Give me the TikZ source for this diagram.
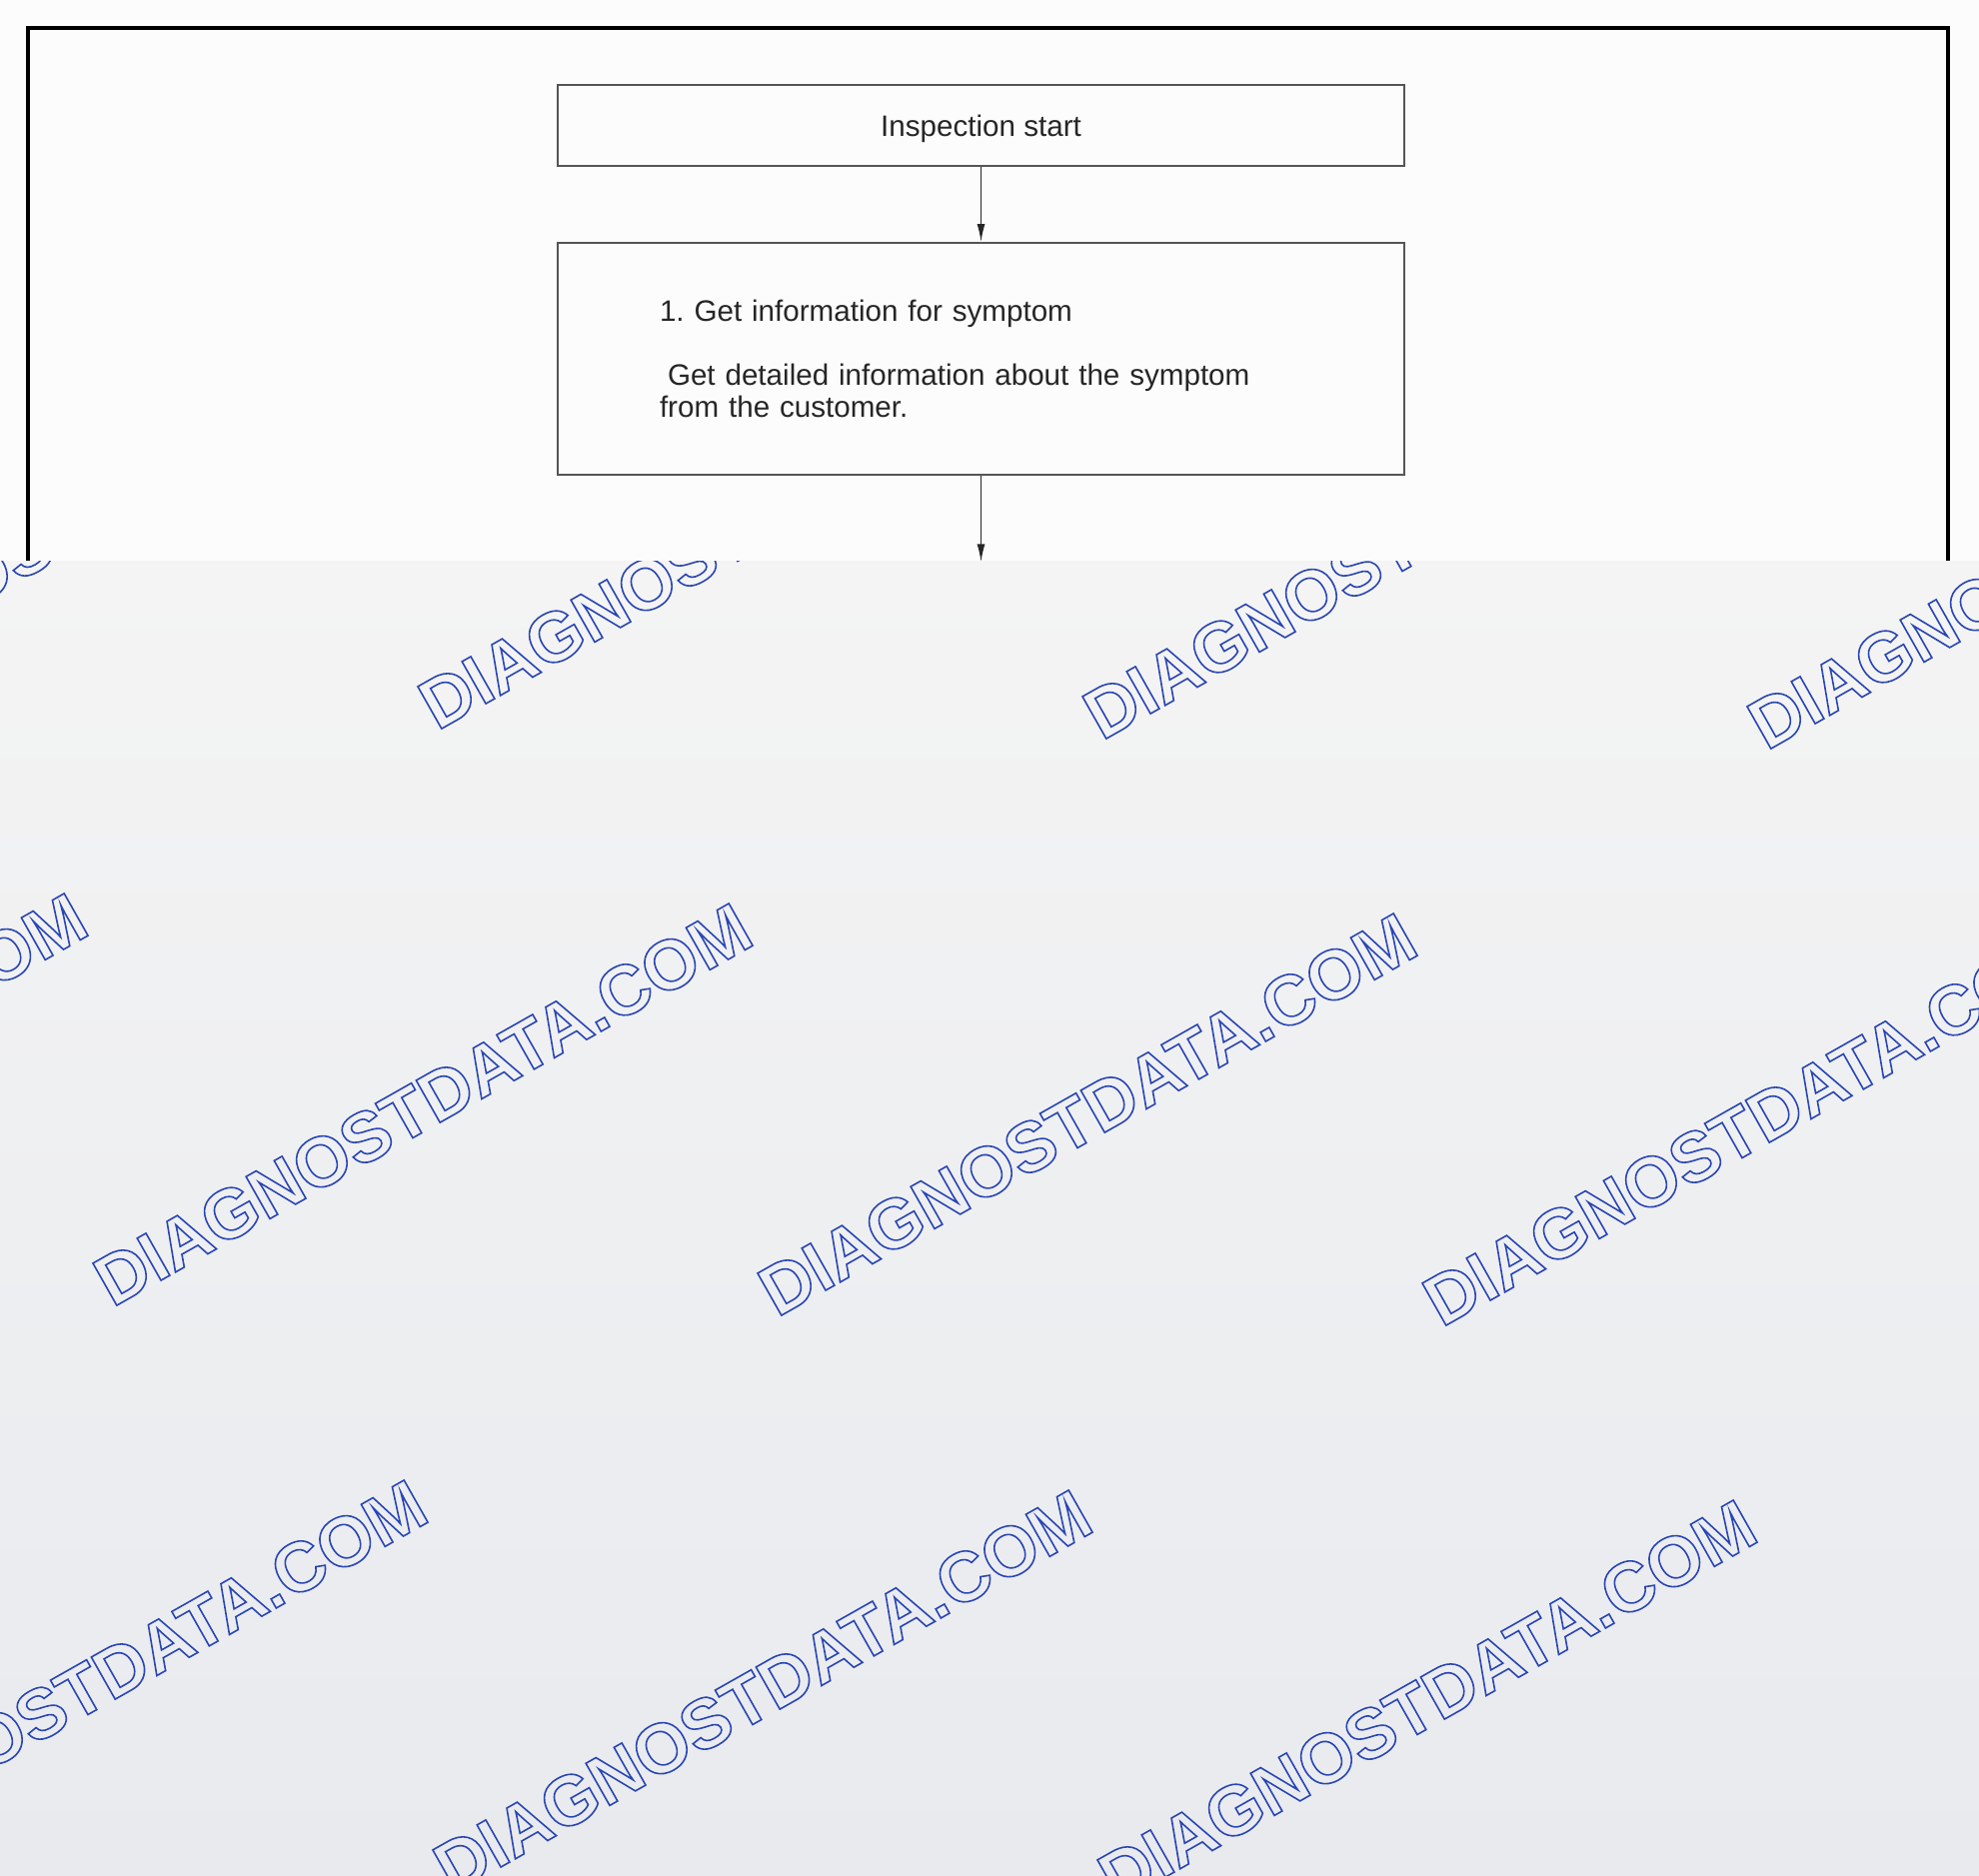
\documentclass[tikz,border=0pt]{standalone}
\usepackage{fontspec}
\setmainfont{Liberation Sans}
\usepackage{tikz}
\usetikzlibrary{
  positioning,
  arrows.meta
}
\definecolor{paper}{HTML}{FCFCFC}
\definecolor{boxline}{HTML}{555555}
\definecolor{inktext}{HTML}{262626}
\definecolor{wmblue}{HTML}{2A46B4}
\definecolor{shadetop}{HTML}{F4F4F4}
\definecolor{shadebot}{HTML}{E8EAEE}
\tikzset{
  flowbox/.style={
    draw=boxline, line width=1.1pt,
    minimum width=423.5pt, inner sep=0pt,
    text=inktext,
    font=\fontsize{14.8}{16}\selectfont\frenchspacing
  },
  frameline/.style={line width=2.2pt, draw=black, line join=miter},
  flowline/.style={line width=0.8pt, draw=black!85},
  wmark/.style={
    text=wmblue, rotate=29.5, inner sep=0pt,
    font=\fontsize{35.2}{36}\selectfont\bfseries
  },
  >={Latex[length=9pt,width=4pt]}
}
\providecommand{\outlined}[1]{\special{pdf:literal direct 1 Tr 0.8 w}#1\special{pdf:literal direct 0 Tr}}

\begin{document}
\begin{tikzpicture}[x=0.5pt,y=-0.5pt]
    \fill [paper] (0,0) rectangle (1980,1876);
    \draw [frameline] (28,600) -- (28,28) -- (1949,28) -- (1949,600);
    \node (start) [flowbox,minimum height=40.5pt,text depth=0pt] at (981.5,125.5) {Inspection start};
    \node (info) [flowbox,minimum height=116pt,text width=321.5pt,inner xsep=51pt,align=left,below=37.5pt of start]
      {1. Get information for symptom\\[16pt]\hspace*{4pt}Get detailed information about the symptom\\from the customer.};
    \node (next) [flowbox,minimum width=425pt,minimum height=80pt,below=43pt of info,xshift=4.75pt] {};
    \draw [flowline,->] (start) -- (info);
    \draw [flowline,->] (info.south) -- (info.south |- next.north);
    % lower part of the page, under the watermark
    \shade [top color=shadetop,bottom color=shadebot] (0,561) rectangle (1980,1876);
    \begin{scope}
      \clip (0,561) rectangle (1980,1876);
      \foreach \j in {-1,0,1}
        \foreach \i in {-1,...,2}
          \node (wm-\i-\j) [wmark] at ({423+665*\i-325*\j},{1105+10*\i+577*\j}) {\outlined{DIAGNOSTDATA.COM}};
    \end{scope}
  \end{tikzpicture}
\end{document}
